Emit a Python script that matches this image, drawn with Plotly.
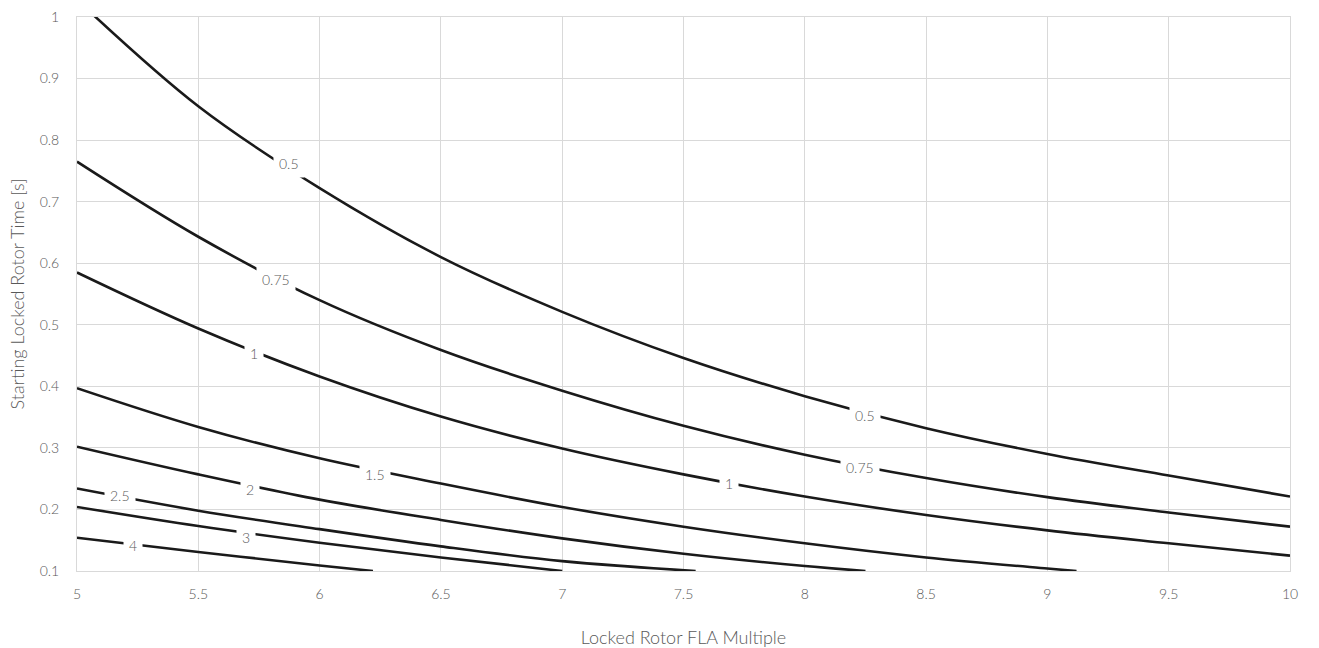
import plotly.graph_objects as go

# ---- data ----
X_STEPS = [5, 5.5, 6, 6.5, 7, 7.5, 8, 8.5, 9, 9.5, 10]

curve_050_x = X_STEPS
curve_050_y = [1.028, 0.855, 0.722, 0.610, 0.521, 0.446, 0.384, 0.332, 0.290, 0.255, 0.221]

curve_075_x = X_STEPS
curve_075_y = [0.765, 0.643, 0.540, 0.459, 0.393, 0.336, 0.289, 0.251, 0.220, 0.195, 0.172]

curve_100_x = X_STEPS
curve_100_y = [0.585, 0.494, 0.416, 0.351, 0.299, 0.257, 0.221, 0.191, 0.166, 0.145, 0.125]

curve_150_x = [5, 5.5, 6, 6.5, 7, 7.5, 8, 8.5, 9, 9.12]
curve_150_y = [0.397, 0.334, 0.283, 0.242, 0.204, 0.172, 0.145, 0.122, 0.104, 0.100]

curve_200_x = [5, 5.5, 6, 6.5, 7, 7.5, 8, 8.25]
curve_200_y = [0.302, 0.257, 0.216, 0.183, 0.153, 0.128, 0.108, 0.100]

curve_250_x = [5, 5.5, 6, 6.5, 7, 7.55]
curve_250_y = [0.234, 0.198, 0.168, 0.140, 0.116, 0.100]

curve_300_x = [5, 5.5, 6, 6.5, 7.0]
curve_300_y = [0.204, 0.173, 0.146, 0.122, 0.100]

curve_400_x = [5, 5.5, 6, 6.22]
curve_400_y = [0.154, 0.131, 0.109, 0.100]

CURVES = [
    (curve_050_x, curve_050_y),
    (curve_075_x, curve_075_y),
    (curve_100_x, curve_100_y),
    (curve_150_x, curve_150_y),
    (curve_200_x, curve_200_y),
    (curve_250_x, curve_250_y),
    (curve_300_x, curve_300_y),
    (curve_400_x, curve_400_y),
]

LABEL_TEXT = ["0.5", "0.5", "0.75", "0.75", "1", "1", "1.5", "2", "2.5", "3", "4"]
LABEL_X = [5.875, 8.25, 5.819, 8.229, 5.729, 7.688, 6.227, 5.715, 5.176, 5.698, 5.231]
LABEL_Y = [0.762, 0.353, 0.574, 0.268, 0.454, 0.242, 0.257, 0.233, 0.222, 0.154, 0.141]

X_TICKS = [5, 5.5, 6, 6.5, 7, 7.5, 8, 8.5, 9, 9.5, 10]
Y_TICKS = [0.1, 0.2, 0.3, 0.4, 0.5, 0.6, 0.7, 0.8, 0.9, 1]

X_TITLE = "Locked Rotor FLA Multiple"
Y_TITLE = "Starting Locked Rotor Time [s]"

# ---- figure ----
FONT = "Lato"
TXT = "#595959"
GRID = "#d9d9d9"

fig = go.Figure()
for cx, cy in CURVES:
    fig.add_trace(go.Scatter(
        x=cx, y=cy, mode="lines",
        line=dict(color="#1a1a1a", width=2.6, shape="spline", smoothing=1.0),
        showlegend=False, hoverinfo="skip",
    ))

for t, lx, ly in zip(LABEL_TEXT, LABEL_X, LABEL_Y):
    fig.add_annotation(
        x=lx, y=ly, text=t, showarrow=False,
        font=dict(family=FONT, size=14, color=TXT, weight=300),
        bgcolor="white", borderpad=5,
    )

fig.update_layout(
    width=1319, height=648,
    margin=dict(l=77, r=29, t=17, b=77),
    paper_bgcolor="white", plot_bgcolor="white",
    font=dict(family=FONT, color=TXT, size=14, weight=300),
)
fig.update_xaxes(
    range=[5, 10], tickvals=X_TICKS, ticktext=[f"{v:g}" for v in X_TICKS],
    showgrid=True, gridcolor=GRID, gridwidth=1,
    showline=True, linecolor=GRID, linewidth=1, mirror=True,
    zeroline=False, ticks="", ticklabelstandoff=10, automargin=False,
    tickfont=dict(family=FONT, size=14, color=TXT, weight=300),
    title=dict(text=X_TITLE, standoff=32,
               font=dict(family=FONT, size=18, color=TXT, weight=300)),
)
fig.update_yaxes(
    range=[0.1, 1], tickvals=Y_TICKS, ticktext=[f"{v:g}" for v in Y_TICKS],
    showgrid=True, gridcolor=GRID, gridwidth=1,
    showline=True, linecolor=GRID, linewidth=1, mirror=True,
    zeroline=False, ticks="", ticklabelstandoff=14, automargin=False,
    tickfont=dict(family=FONT, size=14, color=TXT, weight=300),
    title=dict(text=Y_TITLE, standoff=10,
               font=dict(family=FONT, size=18, color=TXT, weight=300)),
)

fig.write_html("out.html", config={"displayModeBar": False},
               post_script="document.body.style.margin='0';")
